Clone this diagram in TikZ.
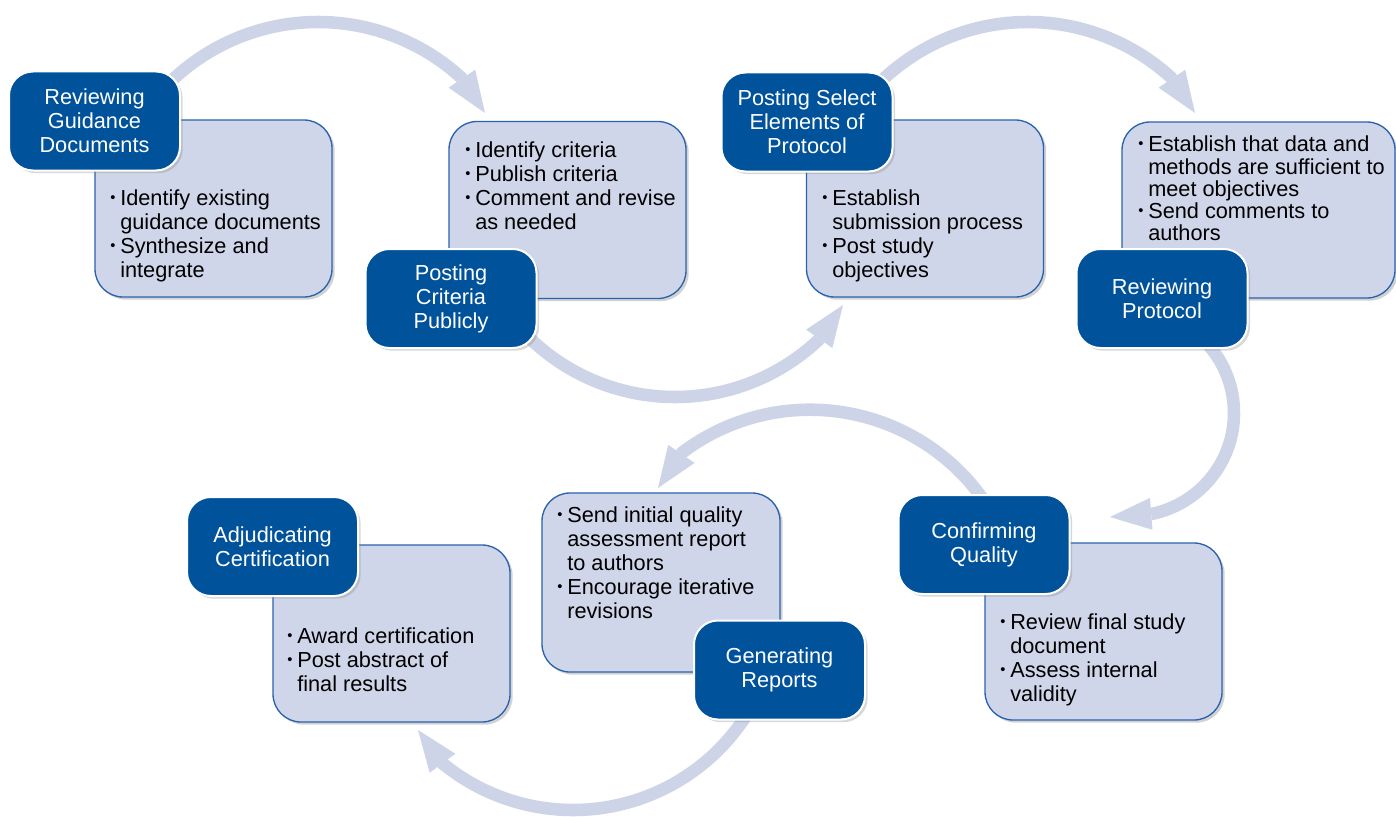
\documentclass[tikz,border=0pt]{standalone}
\usepackage{fontspec}
\setmainfont{Liberation Sans}
\usetikzlibrary{arrows.meta,shadows}

\definecolor{stepblue}{HTML}{00529B}
\definecolor{notefill}{HTML}{D0D6E9}
\definecolor{noteline}{HTML}{2A63AD}
\definecolor{flowcol}{HTML}{CED4E8}

% one unit of length for box sizes (coordinates use the same scale)
\newcommand\pxu{0.75pt}
% small bullet in a fixed-width slot, so wrapped lines align with the text
\newcommand\bul{\makebox[7.5pt][l]{\raisebox{0.14em}{\fontsize{11}{11}\selectfont\textbullet}}}
\newcommand\nob{\makebox[7.5pt]{}}

\tikzset{
  stepbox/.style={draw=white, line width=1.5pt, fill=stepblue,
    rounded corners=18pt, minimum width=171*\pxu, minimum height=99*\pxu,
    text=white, align=center, inner sep=0pt,
    font=\fontsize{16.3}{18}\selectfont,
    drop shadow={shadow xshift=2pt, shadow yshift=-2pt, opacity=0.3}},
  notebox/.style={draw=noteline, line width=1pt, fill=notefill,
    rounded corners=21pt, minimum width=237*\pxu, minimum height=177*\pxu,
    inner sep=0pt,
    drop shadow={shadow xshift=2pt, shadow yshift=-2pt, opacity=0.35}},
  notetext/.style={anchor=west, inner sep=0pt, align=left,
    font=\fontsize{16.3}{18}\selectfont},
  flow/.style={draw=flowcol, line width=9.4pt,
    -{Triangle[width=24pt,length=31pt,line width=0pt]}}
}

\begin{document}
\begin{tikzpicture}[x=0.75pt, y=-0.75pt]
  \fill[white] (0,0) rectangle (1396,817);
  \useasboundingbox (0,0) rectangle (1396,817);

  % centres of the circular flow arrows
  \coordinate (c1) at (318,234);
  \coordinate (c2) at (675,188);
  \coordinate (c3) at (1028,234);
  \coordinate (c4) at (1131,413);
  \coordinate (c5) at (810,621.7);
  \coordinate (c6) at (573,604);
  % arrow start points (hidden under the step boxes)
  \coordinate (s1) at ([shift={(-138.3:212)}]c1);
  \coordinate (s2) at ([shift={(137.9:209)}]c2);
  \coordinate (s3) at ([shift={(-138.3:212)}]c3);
  \coordinate (s4) at ([shift={(-49.2:103)}]c4);
  \coordinate (s5) at ([shift={(-33.3:212)}]c5);
  \coordinate (s6) at ([shift={(29:206)}]c6);
  % arrow tips
  \coordinate (t1) at (485,113);
  \coordinate (t2) at (843,305);
  \coordinate (t3) at (1195,113);
  \coordinate (t4) at (1110,517);
  \coordinate (t5) at (658,488);
  \coordinate (t6) at (418,730);

  \draw[flow] (s1) arc[start angle=-138.3, end angle=-47.5, radius=212] -- (t1);
  \draw[flow] (s2) arc[start angle=137.9, end angle=46.7, radius=209] -- (t2);
  \draw[flow] (s3) arc[start angle=-138.3, end angle=-47.5, radius=212] -- (t3);
  \draw[flow] (s4) arc[start angle=-49.2, end angle=78, radius=103] -- (t4);
  \draw[flow] (s5) arc[start angle=-33.3, end angle=-127, radius=212] -- (t5);
  \draw[flow] (s6) arc[start angle=29, end angle=129.2, radius=206] -- (t6);

  % note boxes
  \node[notebox] (n1) at (213.5,208.5) {};
  \node[notebox] (n2) at (567.5,210) {};
  \node[notebox] (n3) at (925,208.5) {};
  \node[notebox, minimum width=273*\pxu, minimum height=176*\pxu] (n4) at (1258.5,210) {};
  \node[notebox] (n5) at (1103.5,631.5) {};
  \node[notebox, minimum width=238*\pxu, minimum height=179*\pxu] (n6) at (661,582.5) {};
  \node[notebox] (n7) at (391.5,633.5) {};

  % note texts
  \node[notetext] (x1) at (110,236.5) {\begin{tabular}{@{}l@{}l@{}}
    \bul&Identify existing\\ \nob&guidance documents\\
    \bul&Synthesize and\\ \nob&integrate\end{tabular}};
  \node[notetext] (x2) at (465,189) {\begin{tabular}{@{}l@{}l@{}}
    \bul&Identify criteria\\ \bul&Publish criteria\\
    \bul&Comment and revise\\ \nob&as needed\end{tabular}};
  \node[notetext] (x3) at (822,236.5) {\begin{tabular}{@{}l@{}l@{}}
    \bul&Establish\\ \nob&submission process\\
    \bul&Post study\\ \nob&objectives\end{tabular}};
  \node[notetext, font=\fontsize{16.3}{16}\selectfont] (x4) at (1138,191.5) {\begin{tabular}{@{}l@{}l@{}}
    \bul&Establish that data and\\ \nob&methods are sufficient to\\
    \nob&meet objectives\\ \bul&Send comments to\\ \nob&authors\end{tabular}};
  \node[notetext] (x5) at (1000,661) {\begin{tabular}{@{}l@{}l@{}}
    \bul&Review final study\\ \nob&document\\
    \bul&Assess internal\\ \nob&validity\end{tabular}};
  \node[notetext] (x6) at (557,566) {\begin{tabular}{@{}l@{}l@{}}
    \bul&Send initial quality\\ \nob&assessment report\\
    \nob&to authors\\ \bul&Encourage iterative\\ \nob&revisions\end{tabular}};
  \node[notetext] (x7) at (287,662.5) {\begin{tabular}{@{}l@{}l@{}}
    \bul&Award certification\\ \bul&Post abstract of\\
    \nob&final results\end{tabular}};

  % step boxes
  \node[stepbox] (b1) at (94.5,121) {Reviewing\\Guidance\\Documents};
  \node[stepbox] (b2) at (451,298.5) {Posting\\Criteria\\Publicly};
  \node[stepbox] (b3) at (807,122) {Posting Select\\Elements of\\Protocol};
  \node[stepbox] (b4) at (1162,298.5) {Reviewing\\Protocol};
  \node[stepbox] (b5) at (984,544.5) {Confirming\\Quality};
  \node[stepbox] (b6) at (779.5,670) {Generating\\Reports};
  \node[stepbox] (b7) at (272.5,546.5) {Adjudicating\\Certification};
\end{tikzpicture}
\end{document}
